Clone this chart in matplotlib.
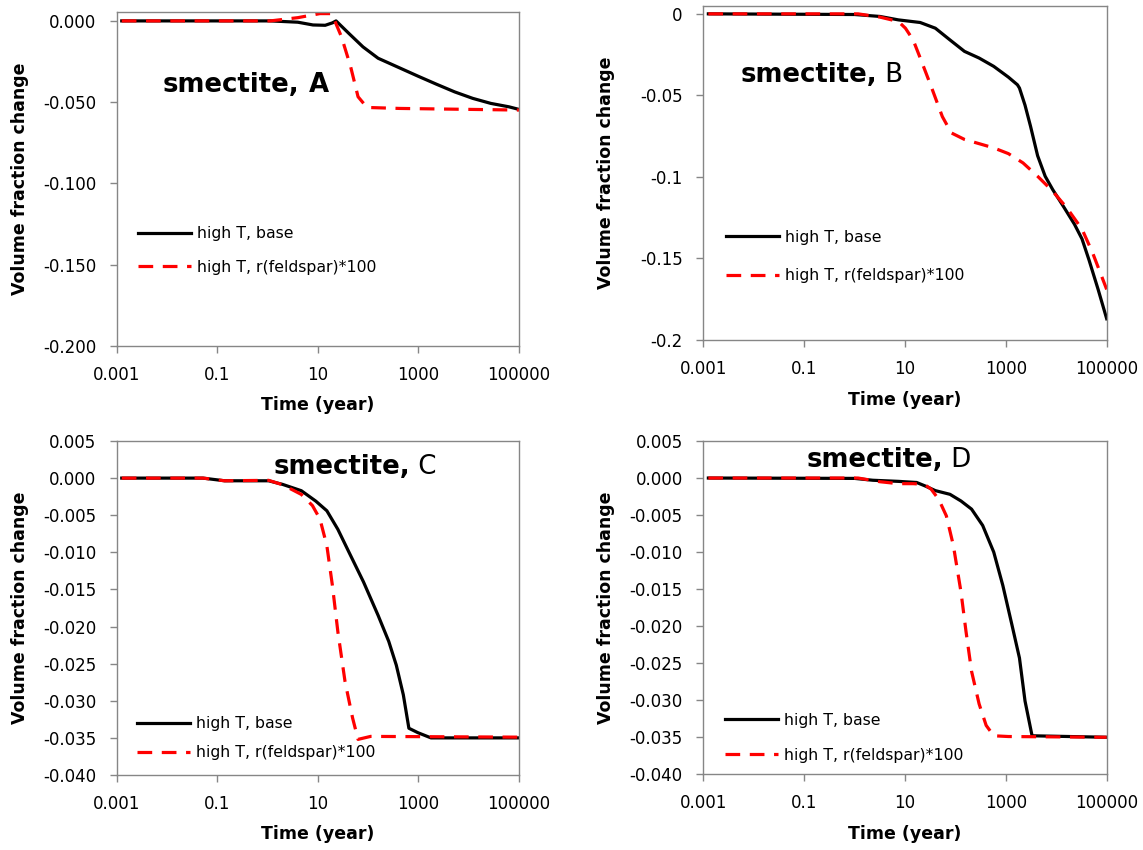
import matplotlib
matplotlib.use('Agg')
import matplotlib.pyplot as plt
from matplotlib.ticker import FixedLocator, NullLocator, FixedFormatter

plt.rcParams['font.family'] = ['DejaVu Sans']

# --- data (time in years, volume fraction change) ---
a_base_t = [0.00126, 1.14, 4, 8, 14, 19.5, 23, 41.7, 79, 158, 427, 977, 2291, 5248, 12023, 27542, 63096, 100000]
a_base_v = [0, 0, -0.0008, -0.0025, -0.0027, -0.0012, 0.0, -0.0078, -0.016, -0.023, -0.029, -0.034, -0.039, -0.0437, -0.0477, -0.0508, -0.0529, -0.0545]
a_feld_t = [0.00126, 1.14, 4, 11, 17.8, 19.5, 29.5, 44.7, 63, 95, 427, 100000]
a_feld_v = [0, 0, 0.002, 0.0045, 0.0045, 0.0035, -0.0098, -0.028, -0.0467, -0.0533, -0.0539, -0.0549]

b_base_t = [0.00126, 1.0, 3.2, 7.4, 20, 40, 78, 151, 295, 575, 1122, 1698, 1862, 2399, 3090, 4266, 6026, 8511, 13804, 22909, 32359, 44668, 67608, 100000]
b_base_v = [0, -0.0004, -0.0016, -0.0037, -0.0053, -0.0088, -0.016, -0.023, -0.0271, -0.0322, -0.0388, -0.0435, -0.0455, -0.056, -0.069, -0.087, -0.0996, -0.1078, -0.118, -0.129, -0.138, -0.151, -0.169, -0.187]
b_feld_t = [0.00126, 1.17, 3.2, 7.4, 10.2, 14.5, 20, 33, 55, 83, 151, 295, 575, 1122, 2188, 4266, 8511, 16218, 32359, 52481, 100000]
b_feld_v = [0, 0, -0.002, -0.0047, -0.0088, -0.016, -0.027, -0.0445, -0.063, -0.073, -0.077, -0.0796, -0.0822, -0.0857, -0.0914, -0.0996, -0.1088, -0.119, -0.132, -0.1465, -0.169]

c_base_t = [0.00126, 0.052, 0.14, 1.05, 2.0, 4.7, 9.1, 15.1, 25, 41.7, 81, 158, 257, 363, 501, 646, 977, 1778, 100000]
c_base_v = [0, 0, -0.00036, -0.00036, -0.00085, -0.0017, -0.0031, -0.0044, -0.0069, -0.010, -0.014, -0.0185, -0.022, -0.0252, -0.0292, -0.0337, -0.0343, -0.035, -0.035]
c_feld_t = [0.00126, 0.052, 0.14, 1.05, 2.0, 4.7, 7.8, 11, 15.1, 19.5, 25, 34.7, 49, 63, 112, 100000]
c_feld_v = [0, 0, -0.00036, -0.0003, -0.0009, -0.0022, -0.0037, -0.0055, -0.0091, -0.0145, -0.0207, -0.0274, -0.0323, -0.0352, -0.0348, -0.0349]

d_base_t = [0.00126, 1.0, 2.3, 7.4, 17, 25.7, 40, 78, 129, 209, 347, 575, 871, 1318, 1862, 2399, 3311, 100000]
d_base_v = [0, -0.00005, -0.0003, -0.00045, -0.0006, -0.0011, -0.0017, -0.0022, -0.0031, -0.0042, -0.0064, -0.010, -0.0145, -0.0198, -0.0243, -0.0301, -0.0348, -0.035]
d_feld_t = [0.00126, 1.17, 3.2, 7.4, 14.5, 24, 33, 46.8, 66, 91, 129, 162, 209, 295, 407, 575, 1122, 100000]
d_feld_v = [0, 0, -0.0005, -0.00076, -0.00076, -0.00085, -0.0015, -0.0029, -0.0051, -0.0091, -0.0154, -0.0207, -0.0261, -0.0305, -0.0334, -0.0348, -0.0349, -0.035]

x_ticks = [0.001, 0.1, 10, 1000, 100000]
x_tick_labels = ['0.001', '0.1', '10', '1000', '100000']
y_ticks_a = [0.0, -0.05, -0.1, -0.15, -0.2]
y_labels_a = ['0.000', '-0.050', '-0.100', '-0.150', '-0.200']
y_labels_b = ['0', '-0.05', '-0.1', '-0.15', '-0.2']
y_ticks_cd = [0.005, 0.0, -0.005, -0.01, -0.015, -0.02, -0.025, -0.03, -0.035, -0.04]
y_labels_cd = ['0.005', '0.000', '-0.005', '-0.010', '-0.015', '-0.020', '-0.025', '-0.030', '-0.035', '-0.040']

legend_labels = ['high T, base', 'high T, r(feldspar)*100']

W, H = 1143, 850
fig = plt.figure(figsize=(W / 100, H / 100), dpi=100)
GRAY = '#868686'


def px_axes(left, top, right, bottom):
    return fig.add_axes([left / W, 1 - bottom / H, (right - left) / W, (bottom - top) / H])


def draw_panel(ax, bt, bv, ft, fv, yt, yl, ylim, letter, letter_bold, title_xy, leg_xy, leg_space):
    ax.plot(bt, bv, color='black', lw=2.3, solid_joinstyle='round', label=legend_labels[0])
    ax.plot(ft, fv, color='#ff0000', lw=2.3, dashes=(4.6, 3.0), label=legend_labels[1])
    ax.set_xscale('log')
    ax.set_xlim(0.001, 100000)
    ax.set_ylim(*ylim)
    ax.xaxis.set_major_locator(FixedLocator(x_ticks))
    ax.xaxis.set_major_formatter(FixedFormatter(x_tick_labels))
    ax.xaxis.set_minor_locator(NullLocator())
    ax.yaxis.set_major_locator(FixedLocator(yt))
    ax.yaxis.set_major_formatter(FixedFormatter(yl))
    for s in ax.spines.values():
        s.set_color(GRAY)
        s.set_linewidth(1.0)
    ax.tick_params(axis='both', direction='out', length=4.8, width=1.0, color=GRAY,
                   labelsize=12, labelcolor='black')
    ax.tick_params(axis='y', pad=10)
    ax.tick_params(axis='x', pad=9.5)

    ax.set_xlabel('Time (year)', fontsize=12.5, fontweight='bold')
    ax.xaxis.set_label_coords(0.5, -0.178)
    ax.xaxis.label.set_va('center')
    ax.set_ylabel('Volume fraction change', fontsize=12.5, fontweight='bold')
    ax.yaxis.set_label_coords(-0.241, 0.5)
    ax.yaxis.label.set_va('center')

    # title: "smectite," bold, panel letter right after it
    t = fig.text(title_xy[0] / W, 1 - title_xy[1] / H, 'smectite,', fontsize=18.7,
                 fontweight='bold', va='baseline', ha='left')
    ax.annotate(' ' + letter, xy=(1, 0), xycoords=t, va='bottom', ha='left', fontsize=18.7,
                fontweight='bold' if letter_bold else 'normal')

    ax.legend(loc='upper left', bbox_to_anchor=(leg_xy[0] / W, 1 - leg_xy[1] / H),
              bbox_transform=fig.transFigure, frameon=False, fontsize=11.3,
              handlelength=3.4, handletextpad=0.35, labelspacing=leg_space,
              borderpad=0, borderaxespad=0)


ax_a = px_axes(116.7, 12.3, 519, 345.7)
draw_panel(ax_a, a_base_t, a_base_v, a_feld_t, a_feld_v, y_ticks_a, y_labels_a,
           (-0.2, 0.0053), 'A', True, (163, 92), (138, 226), 1.2)

ax_b = px_axes(703.3, 5.7, 1106.7, 340)
draw_panel(ax_b, b_base_t, b_base_v, b_feld_t, b_feld_v, y_ticks_a, y_labels_b,
           (-0.2, 0.005), 'B', False, (740.7, 82), (726, 229.7), 1.5)

ax_c = px_axes(116.7, 441, 519, 775)
draw_panel(ax_c, c_base_t, c_base_v, c_feld_t, c_feld_v, y_ticks_cd, y_labels_cd,
           (-0.04, 0.005), 'C', False, (273.5, 474), (137, 716), 0.92)

ax_d = px_axes(703.3, 441, 1106.7, 774.3)
draw_panel(ax_d, d_base_t, d_base_v, d_feld_t, d_feld_v, y_ticks_cd, y_labels_cd,
           (-0.04, 0.005), 'D', False, (806.3, 467), (725, 712.7), 1.27)

fig.savefig('out.png', dpi=100, facecolor='white')
